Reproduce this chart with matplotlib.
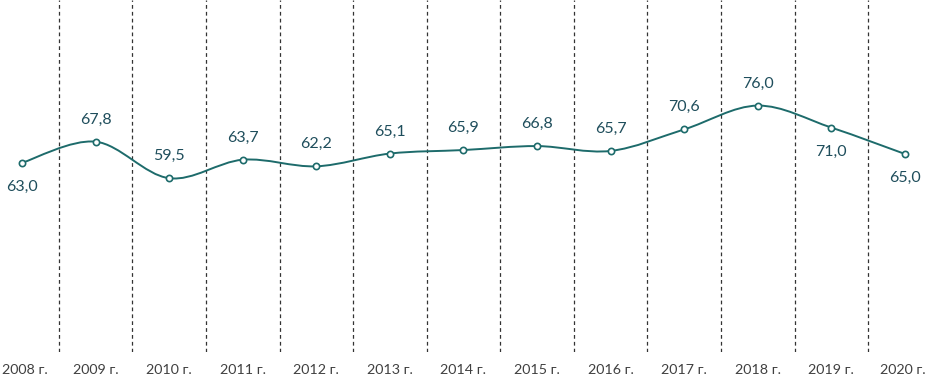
import numpy as np
import matplotlib
matplotlib.use("Agg")
import matplotlib.pyplot as plt
import matplotlib.transforms as mtransforms
from matplotlib.path import Path
from matplotlib.patches import PathPatch

years = ["2008 г.", "2009 г.", "2010 г.", "2011 г.", "2012 г.", "2013 г.", "2014 г.",
         "2015 г.", "2016 г.", "2017 г.", "2018 г.", "2019 г.", "2020 г."]
values = [63.0, 67.8, 59.5, 63.7, 62.2, 65.1, 65.9, 66.8, 65.7, 70.6, 76.0, 71.0, 65.0]
label_below = [True, False, False, False, False, False, False, False, False, False, False, True, True]

line_color = "#1d6b6b"
text_color = "#1f4e5c"

plt.rcParams["font.family"] = ["Lato", "DejaVu Sans"]

fig = plt.figure(figsize=(9.28, 3.78), dpi=100)
ax = fig.add_axes([0, 26 / 378, 1, 352 / 378])

x = np.arange(len(values))
y = np.array(values)

# smooth curve as cubic bezier segments (catmull-rom style control points)
verts = [(x[0], y[0])]
codes = [Path.MOVETO]
t = 1 / 6
for i in range(len(x) - 1):
    p0 = (x[i - 1], y[i - 1]) if i > 0 else (x[i], y[i])
    p1 = (x[i], y[i])
    p2 = (x[i + 1], y[i + 1])
    p3 = (x[i + 2], y[i + 2]) if i + 2 < len(x) else (x[i + 1], y[i + 1])
    c1 = (p1[0] + (p2[0] - p0[0]) * t, p1[1] + (p2[1] - p0[1]) * t)
    c2 = (p2[0] - (p3[0] - p1[0]) * t, p2[1] - (p3[1] - p1[1]) * t)
    verts += [c1, c2, p2]
    codes += [Path.CURVE4] * 3
ax.add_patch(PathPatch(Path(verts, codes), facecolor="none", edgecolor=line_color, lw=1.4, zorder=3))

ax.plot(x, y, "o", ms=4.5, mfc="white", mec=line_color, mew=1.2, zorder=4)

for xi, v, below in zip(x, values, label_below):
    off = -24 if below else 22
    ax.annotate(f"{v:.1f}".replace(".", ","), (xi, v), xytext=(0, off), textcoords="offset pixels",
                ha="center", va="center", fontsize=11.5, color=text_color)

for b in np.arange(0.5, len(values) - 1, 1.0):
    ax.axvline(b, color="#333333", lw=0.9, linestyle=(0, (3, 2.5)), zorder=1)

ax.set_xlim(-22 / 73.58, 12 + 23 / 73.58)
ax.set_ylim(20, 100)
ax.set_xticks(x)
ax.set_xticklabels(years, fontsize=10.3, color="#404040")
ax.tick_params(axis="x", length=0, pad=9)
# keep the first and last year labels inside the figure
lbls = ax.get_xticklabels()
lbls[0].set_transform(lbls[0].get_transform() + mtransforms.ScaledTranslation(3 / 100, 0, fig.dpi_scale_trans))
lbls[-1].set_transform(lbls[-1].get_transform() + mtransforms.ScaledTranslation(-2 / 100, 0, fig.dpi_scale_trans))
ax.set_yticks([])
for s in ax.spines.values():
    s.set_visible(False)

fig.savefig("out.png", dpi=100)
